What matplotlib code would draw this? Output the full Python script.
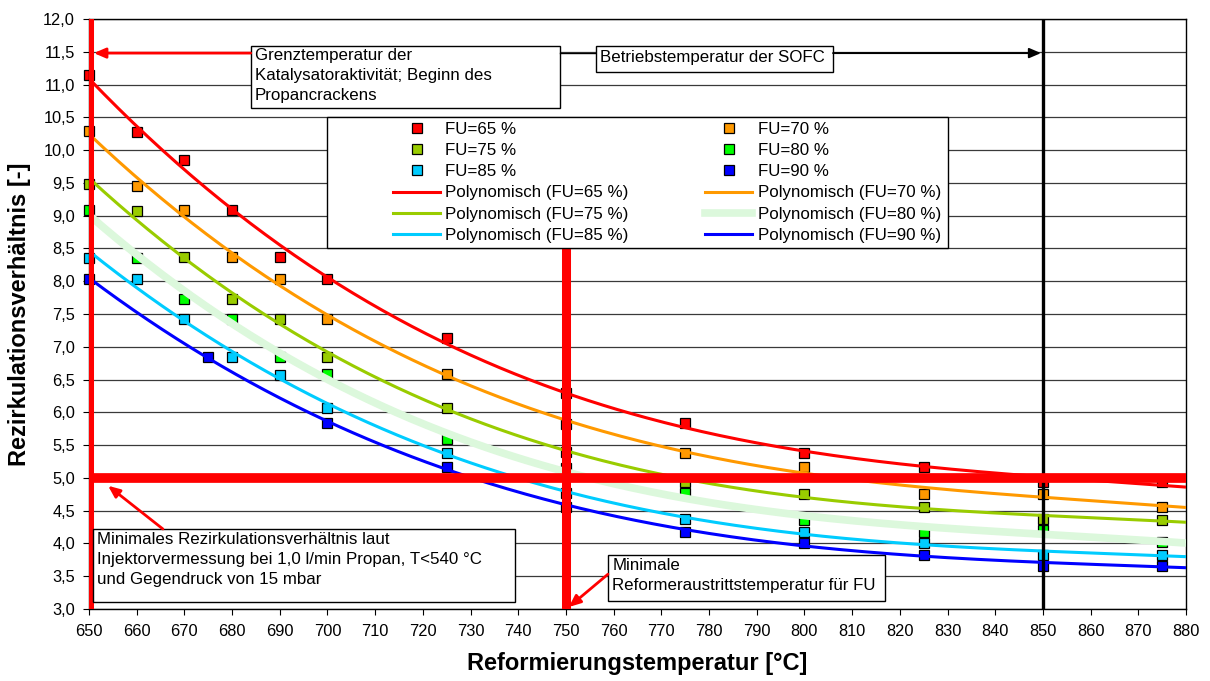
import numpy as np
import matplotlib
matplotlib.use("Agg")
import matplotlib.pyplot as plt
from matplotlib.patches import Rectangle
from matplotlib.lines import Line2D

plt.rcParams["font.family"] = ["Liberation Sans", "DejaVu Sans"]

# Reformierungstemperatur [°C]
temps = [650, 660, 670, 680, 690, 700, 725, 750, 775, 800, 825, 850, 875]
temps_fu90 = [650, 675, 700, 725, 750, 775, 800, 825, 850, 875]

# Rezirkulationsverhältnis je Brennstoffausnutzung
fu65 = [11.15, 10.27, 9.85, 9.08, 8.37, 8.04, 7.14, 6.30, 5.84, 5.38, 5.16, 4.94, 4.94]
fu70 = [10.29, 9.45, 9.08, 8.37, 8.04, 7.43, 6.59, 5.82, 5.38, 5.17, 4.76, 4.76, 4.56]
fu75 = [9.48, 9.07, 8.37, 7.73, 7.43, 6.85, 6.07, 5.40, 4.94, 4.76, 4.56, 4.37, 4.36]
fu80 = [9.09, 8.36, 7.73, 7.43, 6.85, 6.59, 5.60, 5.15, 4.77, 4.36, 4.18, 4.21, 4.02]
fu85 = [8.36, 8.04, 7.42, 6.85, 6.57, 6.07, 5.38, 4.77, 4.38, 4.18, 4.01, 3.83, 3.83]
fu90 = [8.04, 6.85, 5.84, 5.16, 4.56, 4.18, 4.01, 3.83, 3.66, 3.66]

series_labels = ["FU=65 %", "FU=70 %", "FU=75 %", "FU=80 %", "FU=85 %", "FU=90 %"]
marker_colors = ["#ff0000", "#ff9900", "#99cc00", "#00ff00", "#00ccff", "#0000ff"]
trend_colors = ["#ff0000", "#ff9900", "#99cc00", "#dcf8dc", "#00ccff", "#0000ff"]
trend_widths = [2.2, 2.2, 2.2, 5.5, 2.2, 2.2]

x_ticks = list(range(650, 881, 10))
y_ticks = [3.0 + 0.5 * i for i in range(19)]

# Grenzwerte
t_catalyst = 650
t_reformer_min = 750
t_sofc = 850
ratio_min = 5.0

fig = plt.figure(figsize=(12.1, 6.81), dpi=100)
ax = fig.add_axes([89 / 1210, 1 - 609 / 681, 1097 / 1210, 590 / 681])
ax.set_xlim(650, 880)
ax.set_ylim(3.0, 12.0)

ax.set_yticks(y_ticks)
ax.set_yticklabels([f"{v:.1f}".replace(".", ",") for v in y_ticks])
ax.set_xticks(x_ticks)
ax.set_xticklabels([str(v) for v in x_ticks])
ax.tick_params(axis="both", direction="out", length=4, width=0.8,
               labelsize=11.8, colors="black")
ax.tick_params(axis="x", pad=7)
ax.tick_params(axis="y", pad=6)
ax.yaxis.grid(True, color="#3a3a3a", linewidth=0.9, zorder=0)
ax.set_axisbelow(True)
for sp in ax.spines.values():
    sp.set_linewidth(1.0)
    sp.set_color("black")

ax.set_xlabel("Reformierungstemperatur [°C]", fontsize=17, fontweight="bold", labelpad=9)
ax.set_ylabel("Rezirkulationsverhältnis [-]", fontsize=17, fontweight="bold", labelpad=9)

all_x = [temps, temps, temps, temps, temps, temps_fu90]
all_y = [fu65, fu70, fu75, fu80, fu85, fu90]

marker_handles = []
trend_handles = []
x_fit = np.linspace(650, 880, 300)
for xs, ys, lab, mc, tc, tw in zip(all_x, all_y, series_labels,
                                   marker_colors, trend_colors, trend_widths):
    ax.plot(xs, ys, linestyle="none", marker="s", markersize=6.6,
            markerfacecolor=mc, markeredgecolor="black", markeredgewidth=0.9,
            zorder=2.5, clip_on=False)
    poly = np.polynomial.Polynomial.fit(xs, ys, 3)
    ax.plot(x_fit, poly(x_fit), color=tc, linewidth=tw, zorder=3,
            solid_capstyle="butt")
    marker_handles.append(Line2D([], [], linestyle="none", marker="s", markersize=6.6,
                                 markerfacecolor=mc, markeredgecolor="black",
                                 markeredgewidth=0.9, label=lab))
    trend_handles.append(Line2D([], [], color=tc, linewidth=tw,
                                label=f"Polynomisch ({lab})"))

# Grenzlinien
ax.axvline(t_catalyst, color="#ff0000", linewidth=6.5, zorder=4)
ax.plot([t_reformer_min, t_reformer_min], [3.0, 9.5], color="#ff0000",
        linewidth=6.5, zorder=4, solid_capstyle="butt")
ax.axvline(t_sofc, color="black", linewidth=2.4, zorder=4)
ax.axhline(ratio_min, color="#ff0000", linewidth=7, zorder=4)

# Legende mit eigenem Rahmen
ax.add_patch(Rectangle((0.217, 0.612), 0.566, 0.222, transform=ax.transAxes,
                       facecolor="white", edgecolor="black", linewidth=1.0,
                       zorder=5))
handles = [marker_handles[i] for i in [0, 2, 4]] + [trend_handles[i] for i in [0, 2, 4]] \
    + [marker_handles[i] for i in [1, 3, 5]] + [trend_handles[i] for i in [1, 3, 5]]
leg = ax.legend(handles=handles, ncol=2, loc="upper left",
                bbox_to_anchor=(0.277, 0.826), frameon=False, fontsize=12.2,
                borderpad=0, borderaxespad=0, handlelength=2.8, handletextpad=0.3,
                labelspacing=0.37, columnspacing=4.5)
leg.set_zorder(5.5)


def note_box(x0, x1, y0, y1, text, tx, ty):
    ax.add_patch(Rectangle((x0, y0), x1 - x0, y1 - y0, facecolor="white",
                           edgecolor="black", linewidth=1.0, zorder=6))
    ax.text(tx, ty, text, fontsize=12.2, ha="left", va="top", linespacing=1.42,
            zorder=7)


note_box(683.9, 748.7, 10.64, 11.59,
         "Grenztemperatur der\nKatalysatoraktivität; Beginn des\nPropancrackens",
         684.8, 11.56)
ax.annotate("", xy=(651.0, 11.48), xytext=(683.9, 11.48),
            arrowprops=dict(arrowstyle="-|>,head_length=0.7,head_width=0.3",
                            color="#ff0000", lw=2.0, shrinkA=0, shrinkB=0),
            zorder=6)

ax.plot([748.7, 756.3], [11.48, 11.48], color="black", linewidth=1.0, zorder=6)
note_box(756.3, 806.0, 11.195, 11.59, "Betriebstemperatur der SOFC", 757.2, 11.52)
ax.annotate("", xy=(849.6, 11.48), xytext=(806.0, 11.48),
            arrowprops=dict(arrowstyle="-|>,head_length=0.7,head_width=0.3",
                            color="black", lw=1.4, shrinkA=0, shrinkB=0),
            zorder=6)

note_box(650.8, 739.3, 3.11, 4.22,
         "Minimales Rezirkulationsverhältnis laut\n"
         "Injektorvermessung bei 1,0 l/min Propan, T<540 °C\n"
         "und Gegendruck von 15 mbar",
         651.7, 4.17)
ax.annotate("", xy=(654.0, 4.88), xytext=(665.5, 4.22),
            arrowprops=dict(arrowstyle="-|>,head_length=0.7,head_width=0.3",
                            color="#ff0000", lw=2.0, shrinkA=0, shrinkB=0),
            zorder=6)

note_box(758.8, 816.9, 3.12, 3.82,
         "Minimale\nReformeraustrittstemperatur für FU", 759.7, 3.78)
ax.annotate("", xy=(750.6, 3.03), xytext=(758.8, 3.53),
            arrowprops=dict(arrowstyle="-|>,head_length=0.7,head_width=0.3",
                            color="#ff0000", lw=2.0, shrinkA=0, shrinkB=0),
            zorder=6)

fig.savefig("out.png", dpi=100, facecolor="white")
